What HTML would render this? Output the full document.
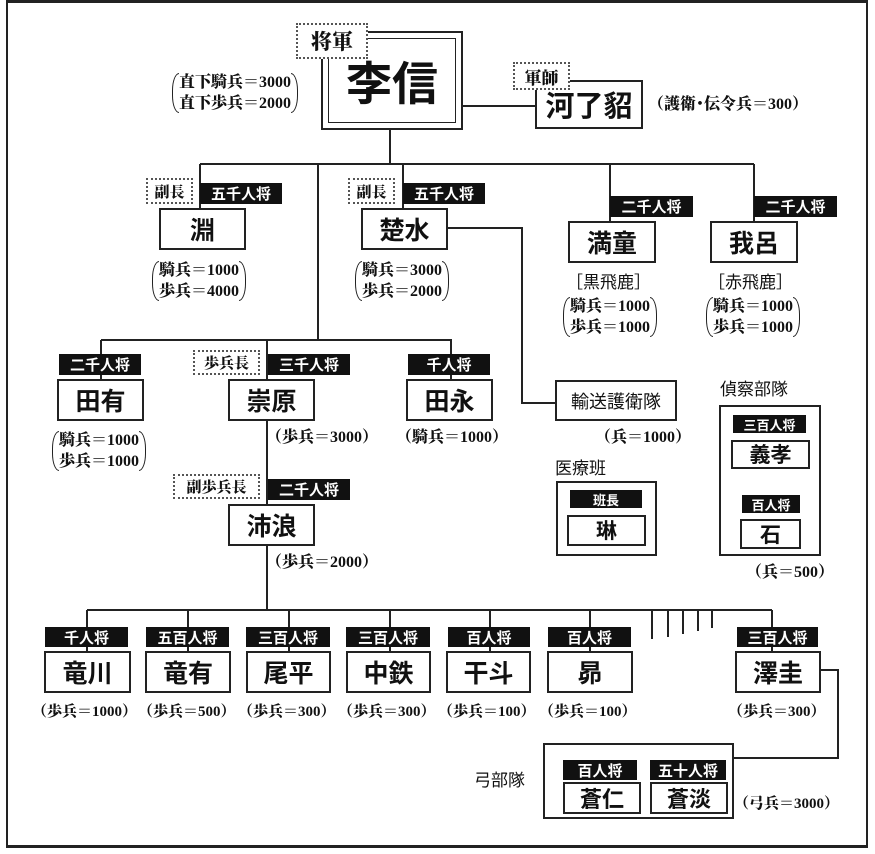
<!DOCTYPE html>
<html><head><meta charset="utf-8">
<style>
html,body{margin:0;padding:0;background:#fff;}
body{width:875px;height:854px;position:relative;overflow:hidden;font-family:"Liberation Sans","Noto Sans CJK JP",sans-serif;color:#111;}
.a{position:absolute;box-sizing:border-box;}
.box{position:absolute;box-sizing:border-box;border:2px solid #222;background:#fff;display:flex;align-items:center;justify-content:center;font-weight:bold;font-size:25px;font-family:"Noto Sans CJK JP",sans-serif;line-height:1;}
.tag{position:absolute;box-sizing:border-box;background:#111;color:#fff;display:flex;align-items:center;justify-content:center;font-weight:bold;font-size:15px;font-family:"Noto Sans CJK JP",sans-serif;line-height:1;}
.dot{position:absolute;box-sizing:border-box;border:2px dotted #555;background:#fff;display:flex;align-items:center;justify-content:center;font-weight:900;font-size:15px;font-family:"Noto Serif CJK SC",serif;line-height:1;}
.st{position:absolute;font-family:"Liberation Serif","Noto Serif CJK SC",serif;font-weight:900;font-size:16px;line-height:21px;white-space:nowrap;}
.st2{padding:0 7px;}
.st2::before,.st2::after{content:"";position:absolute;top:1px;bottom:1px;width:6px;border:1.5px solid #222;}
.st2::before{left:0;border-right:none;border-radius:8px 0 0 8px/50% 0 0 50%;}
.st2::after{right:0;border-left:none;border-radius:0 8px 8px 0/0 50% 50% 0;}
.lbl{position:absolute;font-family:"Noto Sans CJK JP",sans-serif;font-size:17px;line-height:1;white-space:nowrap;}
</style></head><body>
<div class="a" style="left:6px;top:0;width:862px;height:848px;border:2px solid #222;border-top-width:3px;border-bottom-width:3px;"></div>

<svg class="a" style="left:0;top:0" width="875" height="854">
<g stroke="#222" stroke-width="2" fill="none">
<polyline points="462,106 535,106"/>
<polyline points="390,129 390,164"/>
<polyline points="200,164 754,164"/>
<polyline points="200,164 200,208"/>
<polyline points="403,164 403,208"/>
<polyline points="610,164 610,221"/>
<polyline points="754,164 754,221"/>
<polyline points="318,164 318,340"/>
<polyline points="101,340 451,340 451,379"/>
<polyline points="101,340 101,379"/>
<polyline points="267,340 267,610"/>
<polyline points="447,228 522,228 522,403 555,403"/>
<polyline points="87,610 772,610"/>
<polyline points="87,610 87,651"/><polyline points="188,610 188,651"/><polyline points="289,610 289,651"/>
<polyline points="390,610 390,651"/><polyline points="490,610 490,651"/><polyline points="590,610 590,651"/>
<polyline points="772,610 772,651"/>
<polyline points="652,610 652,639"/><polyline points="668,610 668,637"/><polyline points="683,610 683,634"/><polyline points="698,610 698,631"/><polyline points="712,610 712,628"/>
<polyline points="820,670 838,670 838,758 733,758"/>
</g></svg>

<!-- 李信 -->
<div class="a" style="left:321px;top:31px;width:142px;height:99px;border:2px solid #222;background:#fff"></div>
<div class="box" style="left:328px;top:38px;width:128px;height:85px;border-width:1.5px;font-size:46px;">李信</div>
<div class="dot" style="left:296px;top:23px;width:72px;height:36px;font-size:21px;">将軍</div>
<div class="st st2" style="left:172px;top:72px;">直下騎兵＝3000<br>直下歩兵＝2000</div>

<div class="box" style="left:535px;top:80px;width:108px;height:49px;font-size:29px;">河了貂</div>
<div class="dot" style="left:513px;top:62px;width:57px;height:28px;font-size:17px;">軍師</div>
<div class="st" style="left:648px;top:94px;">（護衛･伝令兵＝300）</div>

<!-- 淵 楚水 -->
<div class="dot" style="left:146px;top:178px;width:47px;height:26px;">副長</div>
<div class="tag" style="left:200px;top:183px;width:82px;height:21px;">五千人将</div>
<div class="box" style="left:159px;top:208px;width:87px;height:42px;">淵</div>
<div class="st st2" style="left:152px;top:260px;">騎兵＝1000<br>歩兵＝4000</div>

<div class="dot" style="left:348px;top:178px;width:47px;height:26px;">副長</div>
<div class="tag" style="left:403px;top:183px;width:82px;height:21px;">五千人将</div>
<div class="box" style="left:361px;top:208px;width:87px;height:42px;">楚水</div>
<div class="st st2" style="left:355px;top:260px;">騎兵＝3000<br>歩兵＝2000</div>

<div class="tag" style="left:610px;top:196px;width:83px;height:21px;">二千人将</div>
<div class="box" style="left:568px;top:221px;width:88px;height:42px;">満童</div>
<div class="lbl" style="left:566px;top:272px;">［黒飛鹿］</div>
<div class="st st2" style="left:563px;top:296px;">騎兵＝1000<br>歩兵＝1000</div>

<div class="tag" style="left:754px;top:196px;width:83px;height:21px;">二千人将</div>
<div class="box" style="left:710px;top:221px;width:88px;height:42px;">我呂</div>
<div class="lbl" style="left:708px;top:272px;">［赤飛鹿］</div>
<div class="st st2" style="left:706px;top:296px;">騎兵＝1000<br>歩兵＝1000</div>

<!-- row 3 -->
<div class="tag" style="left:59px;top:354px;width:82px;height:21px;">二千人将</div>
<div class="box" style="left:57px;top:379px;width:87px;height:42px;">田有</div>
<div class="st st2" style="left:52px;top:430px;">騎兵＝1000<br>歩兵＝1000</div>

<div class="dot" style="left:193px;top:350px;width:67px;height:25px;">歩兵長</div>
<div class="tag" style="left:268px;top:354px;width:82px;height:21px;">三千人将</div>
<div class="box" style="left:228px;top:379px;width:87px;height:42px;">崇原</div>
<div class="st" style="left:266px;top:427px;">（歩兵＝3000）</div>

<div class="tag" style="left:408px;top:354px;width:82px;height:21px;">千人将</div>
<div class="box" style="left:406px;top:379px;width:87px;height:42px;">田永</div>
<div class="st" style="left:396px;top:427px;">（騎兵＝1000）</div>

<div class="box" style="left:555px;top:380px;width:122px;height:41px;font-size:18px;font-weight:normal;">輸送護衛隊</div>
<div class="st" style="left:595px;top:427px;">（兵＝1000）</div>

<div class="dot" style="left:173px;top:474px;width:87px;height:25px;">副歩兵長</div>
<div class="tag" style="left:268px;top:479px;width:82px;height:21px;">二千人将</div>
<div class="box" style="left:228px;top:504px;width:87px;height:42px;">沛浪</div>
<div class="st" style="left:266px;top:552px;">（歩兵＝2000）</div>

<!-- 医療班 -->
<div class="lbl" style="left:555px;top:458px;">医療班</div>
<div class="a" style="left:556px;top:481px;width:101px;height:75px;border:2px solid #222;"></div>
<div class="tag" style="left:570px;top:490px;width:72px;height:18px;font-size:13px;">班長</div>
<div class="box" style="left:567px;top:515px;width:79px;height:31px;font-size:21px;">琳</div>

<!-- 偵察部隊 -->
<div class="lbl" style="left:720px;top:379px;">偵察部隊</div>
<div class="a" style="left:719px;top:405px;width:102px;height:151px;border:2px solid #222;"></div>
<div class="tag" style="left:733px;top:415px;width:73px;height:18px;font-size:13px;">三百人将</div>
<div class="box" style="left:731px;top:440px;width:79px;height:29px;font-size:21px;">義孝</div>
<div class="tag" style="left:742px;top:495px;width:58px;height:18px;font-size:13px;">百人将</div>
<div class="box" style="left:740px;top:519px;width:61px;height:30px;font-size:21px;">石</div>
<div class="st" style="left:746px;top:562px;">（兵＝500）</div>

<!-- row 4 -->
<div class="tag" style="left:45px;top:627px;width:83px;height:20px;">千人将</div>
<div class="box" style="left:44px;top:651px;width:87px;height:42px;">竜川</div>
<div class="st" style="left:32px;top:702px;font-size:15px;">（歩兵＝1000）</div>
<div class="tag" style="left:146px;top:627px;width:83px;height:20px;">五百人将</div>
<div class="box" style="left:145px;top:651px;width:86px;height:42px;">竜有</div>
<div class="st" style="left:138px;top:702px;font-size:15px;">（歩兵＝500）</div>
<div class="tag" style="left:246px;top:627px;width:84px;height:20px;">三百人将</div>
<div class="box" style="left:246px;top:651px;width:85px;height:42px;">尾平</div>
<div class="st" style="left:238px;top:702px;font-size:15px;">（歩兵＝300）</div>
<div class="tag" style="left:346px;top:627px;width:84px;height:20px;">三百人将</div>
<div class="box" style="left:346px;top:651px;width:85px;height:42px;">中鉄</div>
<div class="st" style="left:338px;top:702px;font-size:15px;">（歩兵＝300）</div>
<div class="tag" style="left:448px;top:627px;width:82px;height:20px;">百人将</div>
<div class="box" style="left:446px;top:651px;width:85px;height:42px;">干斗</div>
<div class="st" style="left:438px;top:702px;font-size:15px;">（歩兵＝100）</div>
<div class="tag" style="left:548px;top:627px;width:83px;height:20px;">百人将</div>
<div class="box" style="left:547px;top:651px;width:86px;height:42px;">昴</div>
<div class="st" style="left:539px;top:702px;font-size:15px;">（歩兵＝100）</div>
<div class="tag" style="left:737px;top:627px;width:81px;height:20px;">三百人将</div>
<div class="box" style="left:735px;top:651px;width:86px;height:42px;">澤圭</div>
<div class="st" style="left:728px;top:702px;font-size:15px;">（歩兵＝300）</div>

<!-- 弓部隊 -->
<div class="lbl" style="left:474px;top:770px;">弓部隊</div>
<div class="a" style="left:543px;top:743px;width:191px;height:76px;border:2px solid #222;"></div>
<div class="tag" style="left:563px;top:760px;width:74px;height:20px;">百人将</div>
<div class="tag" style="left:650px;top:760px;width:76px;height:20px;">五十人将</div>
<div class="box" style="left:563px;top:782px;width:78px;height:32px;font-size:22px;">蒼仁</div>
<div class="box" style="left:650px;top:782px;width:78px;height:32px;font-size:22px;">蒼淡</div>
<div class="st" style="left:734px;top:794px;font-size:15px;">（弓兵＝3000）</div>
</body></html>
